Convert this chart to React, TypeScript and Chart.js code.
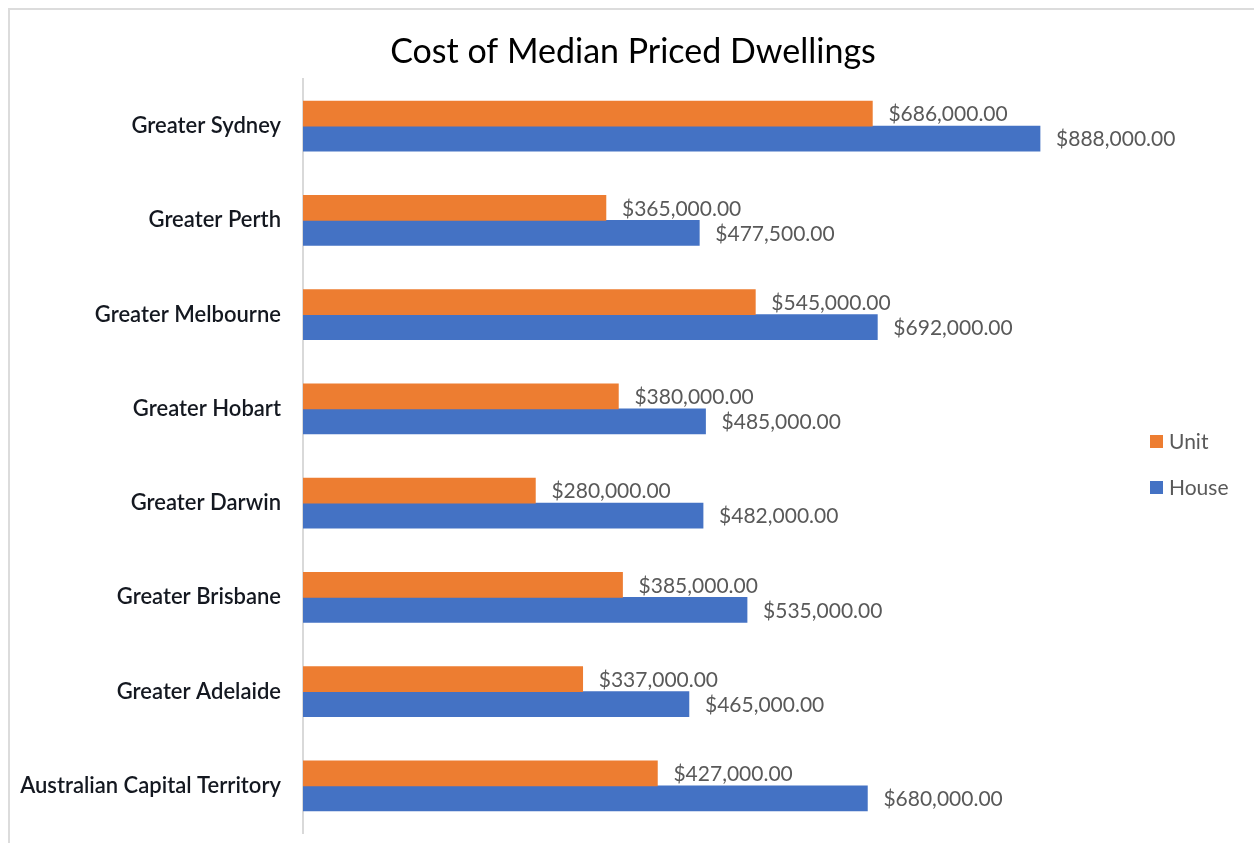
import React, { useEffect, useRef } from "react";
import { Chart, registerables } from "chart.js";

Chart.register(...registerables);

const categories = [
  "Greater Sydney",
  "Greater Perth",
  "Greater Melbourne",
  "Greater Hobart",
  "Greater Darwin",
  "Greater Brisbane",
  "Greater Adelaide",
  "Australian Capital Territory",
];
const unitValues = [686000, 365000, 545000, 380000, 280000, 385000, 337000, 427000];
const houseValues = [888000, 477500, 692000, 485000, 482000, 535000, 465000, 680000];
const seriesNames = ["Unit", "House"];
const seriesColors = ["#ED7D31", "#4472C4"];
const titleText = "Cost of Median Priced Dwellings";

const FONT = "Lato, 'Open Sans', sans-serif";

const fmt = (v: number) =>
  "$" + v.toLocaleString("en-US", { minimumFractionDigits: 2, maximumFractionDigits: 2 });

const decorPlugin = {
  id: "decor",
  afterDraw(chart: any) {
    const ctx = chart.ctx;
    ctx.save();
    // title
    ctx.fillStyle = "#000000";
    ctx.font = `34px ${FONT}`;
    ctx.textAlign = "center";
    ctx.textBaseline = "middle";
    ctx.fillText(titleText, 633, 52);
    // data labels
    ctx.font = `21px ${FONT}`;
    ctx.fillStyle = "#595959";
    ctx.textAlign = "left";
    chart.data.datasets.forEach((ds: any, di: number) => {
      const meta = chart.getDatasetMeta(di);
      meta.data.forEach((el: any, i: number) => {
        ctx.fillText(fmt(ds.data[i]), el.x + 16, el.y + 1);
      });
    });
    // legend
    const items = [
      { label: seriesNames[0], color: seriesColors[0], y: 441 },
      { label: seriesNames[1], color: seriesColors[1], y: 487 },
    ];
    items.forEach((it) => {
      ctx.fillStyle = it.color;
      ctx.fillRect(1150, it.y - 6, 13, 13);
      ctx.fillStyle = "#595959";
      ctx.fillText(it.label, 1169, it.y + 1);
    });
    ctx.restore();
  },
};

export default function App() {
  const ref = useRef<HTMLCanvasElement>(null);
  useEffect(() => {
    if (!ref.current) return;
    const chart = new Chart(ref.current, {
      type: "bar",
      data: {
        labels: categories,
        datasets: [
          { label: seriesNames[0], data: unitValues, backgroundColor: seriesColors[0], barThickness: 25 },
          { label: seriesNames[1], data: houseValues, backgroundColor: seriesColors[1], barThickness: 25 },
        ],
      },
      options: {
        indexAxis: "y",
        animation: false,
        responsive: false,
        devicePixelRatio: 1,
        layout: { padding: { left: 0, right: 121, top: 79, bottom: 10 } },
        plugins: {
          legend: { display: false },
          title: { display: false },
          tooltip: { enabled: false },
        },
        scales: {
          x: { display: false, min: 0, max: 1000000 },
          y: {
            afterFit: (scale: any) => {
              scale.width = 303;
              scale.paddingTop = 0;
              scale.paddingBottom = 0;
            },
            grid: { display: false, drawTicks: false },
            border: { display: true, color: "#d9d9d9", width: 2 },
            ticks: {
              padding: 22,
              color: "#141820",
              font: { family: FONT, size: 22, weight: "600" },
            },
          },
        },
      },
      plugins: [decorPlugin],
    });
    return () => chart.destroy();
  }, []);
  return (
    <div style={{ position: "fixed", left: 0, top: 0, width: 1254, height: 843, background: "#fff" }}>
      <div
        style={{
          position: "absolute",
          left: 8,
          top: 8,
          width: 1246,
          height: 835,
          borderTop: "2px solid #dcdcdc",
          borderLeft: "2px solid #dcdcdc",
          boxSizing: "border-box",
        }}
      />
      <canvas ref={ref} width={1254} height={843} style={{ position: "absolute", left: 0, top: 0 }} />
    </div>
  );
}
